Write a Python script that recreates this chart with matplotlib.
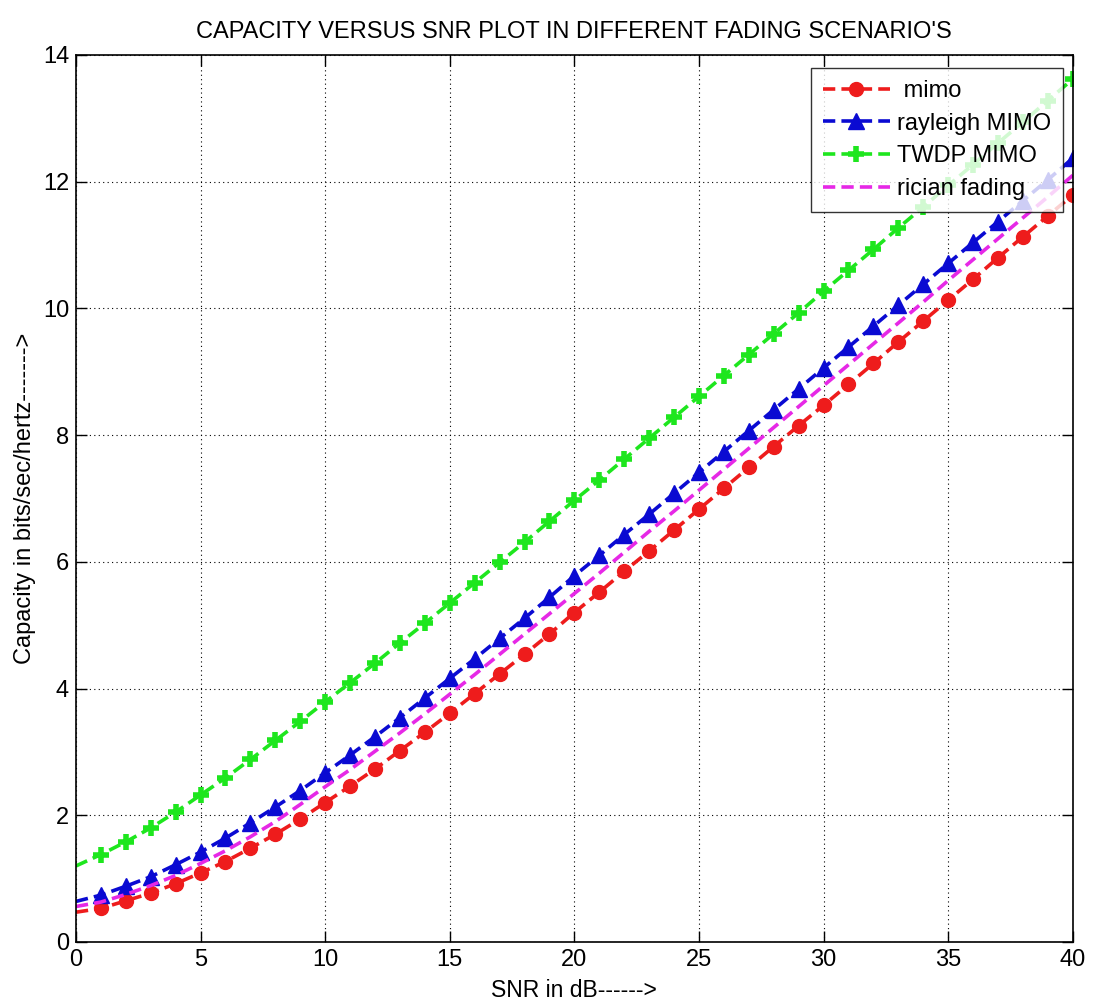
import matplotlib
matplotlib.use("Agg")
import matplotlib.pyplot as plt
from matplotlib.ticker import MultipleLocator

plt.rcParams['font.family'] = ['Liberation Sans', 'DejaVu Sans']

snr = list(range(0, 41))

mimo = [0.47, 0.53, 0.65, 0.77, 0.92, 1.09, 1.27, 1.48, 1.70, 1.94,
        2.20, 2.46, 2.73, 3.02, 3.31, 3.61, 3.92, 4.23, 4.54, 4.86,
        5.20, 5.52, 5.85, 6.17, 6.50, 6.83, 7.16, 7.49, 7.82, 8.15,
        8.47, 8.80, 9.13, 9.47, 9.80, 10.13, 10.46, 10.80, 11.13, 11.46,
        11.79]

rayleigh = [0.64, 0.74, 0.88, 1.03, 1.22, 1.42, 1.64, 1.88, 2.13, 2.39,
            2.67, 2.95, 3.24, 3.54, 3.85, 4.16, 4.47, 4.79, 5.11, 5.44,
            5.78, 6.10, 6.43, 6.75, 7.08, 7.41, 7.74, 8.07, 8.40, 8.73,
            9.06, 9.39, 9.72, 10.05, 10.38, 10.71, 11.04, 11.37, 11.70, 12.03,
            12.37]

twdp = [1.20, 1.38, 1.58, 1.80, 2.05, 2.32, 2.59, 2.88, 3.18, 3.48,
        3.79, 4.09, 4.40, 4.72, 5.03, 5.35, 5.67, 5.99, 6.31, 6.64,
        6.97, 7.29, 7.62, 7.95, 8.28, 8.61, 8.94, 9.27, 9.60, 9.93,
        10.27, 10.60, 10.93, 11.27, 11.60, 11.94, 12.27, 12.61, 12.94, 13.28,
        13.62]

rician = [0.56, 0.63, 0.75, 0.89, 1.05, 1.24, 1.44, 1.66, 1.90, 2.17,
          2.45, 2.72, 3.01, 3.30, 3.60, 3.91, 4.22, 4.54, 4.86, 5.18,
          5.50, 5.82, 6.15, 6.48, 6.80, 7.13, 7.46, 7.79, 8.12, 8.45,
          8.78, 9.11, 9.44, 9.77, 10.10, 10.44, 10.77, 11.10, 11.43, 11.76,
          12.10]

labels = [' mimo', 'rayleigh MIMO', 'TWDP MIMO', 'rician fading']
title = "CAPACITY VERSUS SNR PLOT IN DIFFERENT FADING SCENARIO'S"
xlabel = "SNR in dB------>"
ylabel = "Capacity in bits/sec/hertz------->"

fig = plt.figure(figsize=(10.93, 10.08), dpi=100)
ax = fig.add_axes([0.0695, 0.0655, 0.912, 0.880])

lw = 2.6
dash = (0, (3.4, 1.7))
mk = list(range(1, 41))
ax.plot(snr, mimo, color='#ee1c1c', lw=lw, ls=dash, marker='o', ms=10,
        markevery=mk, label=labels[0])
ax.plot(snr, rayleigh, color='#0a0ad2', lw=lw, ls=dash, marker='^', ms=12,
        markevery=mk, label=labels[1])
ax.plot(snr, twdp, color='#1ee61e', lw=lw, ls=dash, marker='+', ms=12, mew=4,
        markevery=mk, label=labels[2])
ax.plot(snr, rician, color='#e628e6', lw=lw, ls=dash, label=labels[3])

ax.set_xlim(0, 40)
ax.set_ylim(0, 14)
ax.xaxis.set_major_locator(MultipleLocator(5))
ax.yaxis.set_major_locator(MultipleLocator(2))
ax.grid(True, color='black', ls=(0, (1, 3)), lw=0.8)
ax.tick_params(direction='in', top=True, right=True, length=8, width=1, labelsize=17, pad=5)
for s in ax.spines.values():
    s.set_linewidth(1.2)

ax.set_title(title, fontsize=17, pad=12)
ax.set_xlabel(xlabel, fontsize=16.5, labelpad=6)
ax.set_ylabel(ylabel, fontsize=17, labelpad=5)

leg = ax.legend(loc='upper right', bbox_to_anchor=(0.99, 0.985), fontsize=17,
                frameon=True, fancybox=False, edgecolor='black', handlelength=2.85,
                handletextpad=0.3, borderpad=0.5, labelspacing=0.45, borderaxespad=0)
leg.get_frame().set_linewidth(1.0)

fig.savefig('out.png', dpi=100)
